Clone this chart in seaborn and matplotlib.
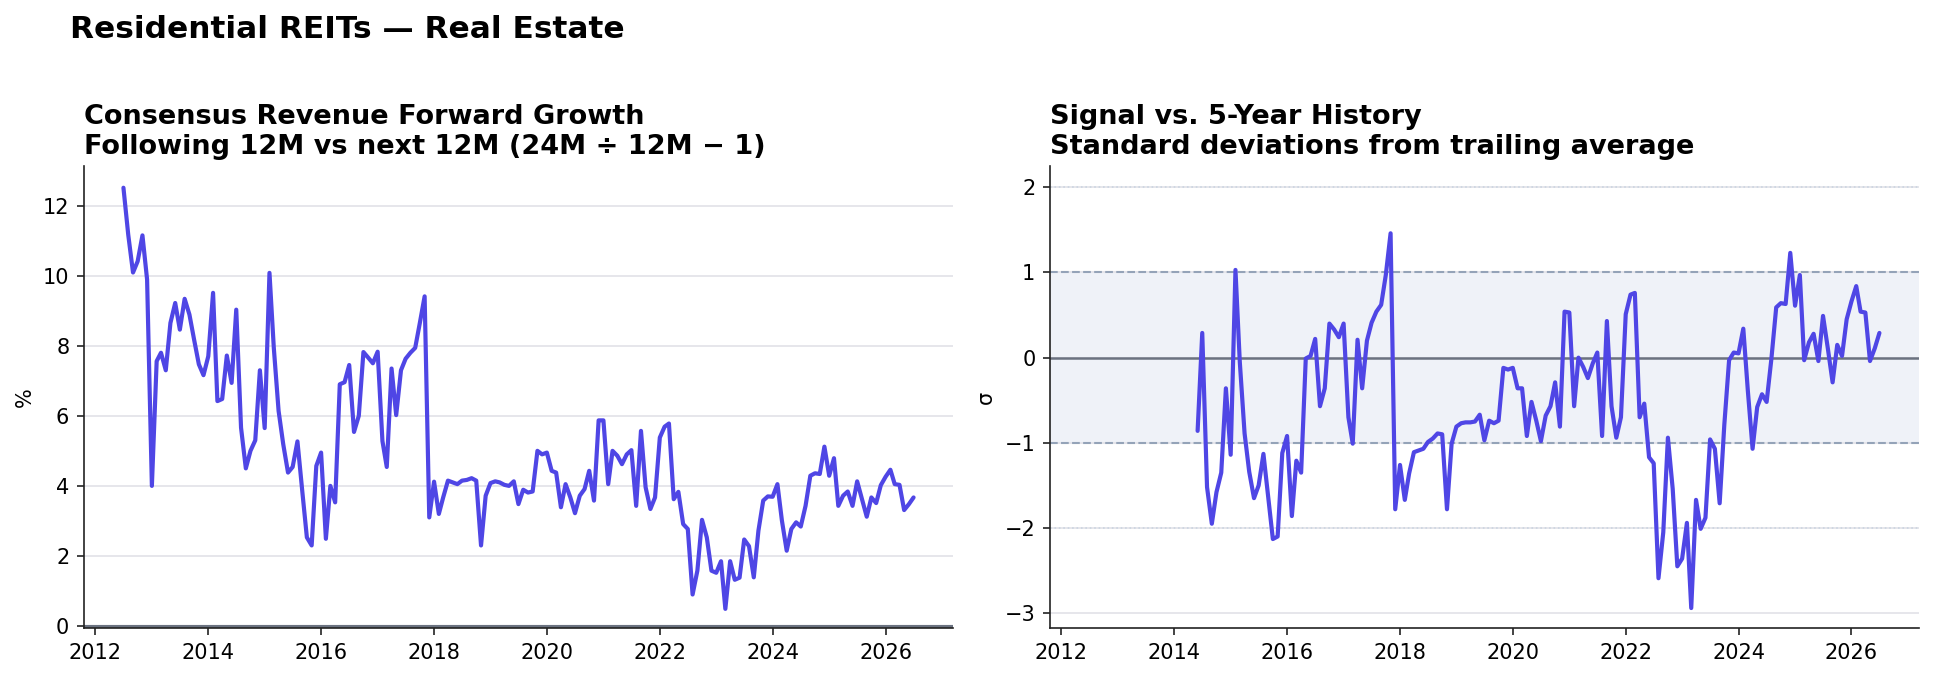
import matplotlib
matplotlib.use("Agg")
import matplotlib.pyplot as plt
import numpy as np
import pandas as pd
import seaborn as sns

# monthly consensus revenue forward growth (%), Jul 2012 - Jul 2026
growth = [12.51, 11.17, 10.09, 10.41, 11.15, 9.89, 4.0, 7.56, 7.8, 7.3,
          8.65, 9.22, 8.46, 9.34, 8.89, 8.18, 7.47, 7.16, 7.7, 9.51,
          6.42, 6.48, 7.72, 6.94, 9.03, 5.66, 4.5, 5.0, 5.3, 7.3,
          5.65, 10.08, 7.94, 6.14, 5.19, 4.38, 4.54, 5.27, 3.86, 2.53,
          2.3, 4.57, 4.95, 2.49, 4.0, 3.53, 6.9, 6.96, 7.45, 5.54,
          6.0, 7.82, 7.66, 7.5, 7.83, 5.28, 4.54, 7.35, 6.02, 7.3,
          7.63, 7.8, 7.94, 8.65, 9.41, 3.1, 4.12, 3.2, 3.67, 4.15,
          4.1, 4.05, 4.15, 4.17, 4.22, 4.15, 2.3, 3.72, 4.08, 4.13,
          4.1, 4.03, 4.0, 4.13, 3.48, 3.89, 3.81, 3.84, 5.0, 4.9,
          4.95, 4.43, 4.38, 3.39, 4.05, 3.67, 3.22, 3.72, 3.91, 4.43,
          3.58, 5.87, 5.87, 4.05, 5.0, 4.86, 4.62, 4.9, 5.02, 3.43,
          5.57, 3.96, 3.34, 3.67, 5.38, 5.69, 5.78, 3.62, 3.83, 2.91,
          2.77, 0.9, 1.58, 3.03, 2.53, 1.58, 1.52, 1.85, 0.49, 1.85,
          1.32, 1.38, 2.47, 2.28, 1.39, 2.72, 3.58, 3.7, 3.69, 4.05,
          3.01, 2.15, 2.77, 2.96, 2.84, 3.43, 4.29, 4.36, 4.34, 5.12,
          4.29, 4.79, 3.43, 3.72, 3.84, 3.43, 4.13, 3.62, 3.12, 3.67,
          3.51, 4.02, 4.26, 4.46, 4.05, 4.03, 3.31, 3.48, 3.67]

# z-score vs trailing history, Jun 2014 - Jul 2026
zscore = [-0.86, 0.29, -1.52, -1.95, -1.58, -1.35, -0.36, -1.14, 1.03, -0.05,
          -0.89, -1.34, -1.65, -1.5, -1.13, -1.64, -2.13, -2.1, -1.12, -0.92,
          -1.86, -1.21, -1.35, -0.01, 0.02, 0.22, -0.57, -0.36, 0.4, 0.33,
          0.24, 0.4, -0.7, -1.01, 0.21, -0.36, 0.2, 0.41, 0.54, 0.62,
          0.97, 1.46, -1.78, -1.26, -1.67, -1.36, -1.11, -1.09, -1.07, -0.99,
          -0.95, -0.89, -0.9, -1.78, -1.01, -0.81, -0.77, -0.76, -0.76, -0.75,
          -0.67, -0.97, -0.74, -0.77, -0.74, -0.12, -0.14, -0.12, -0.36, -0.36,
          -0.92, -0.52, -0.74, -0.98, -0.68, -0.57, -0.29, -0.81, 0.54, 0.53,
          -0.57, 0.0, -0.11, -0.24, -0.07, 0.06, -0.92, 0.43, -0.57, -0.94,
          -0.7, 0.51, 0.74, 0.76, -0.7, -0.54, -1.17, -1.24, -2.59, -2.05,
          -0.94, -1.54, -2.45, -2.36, -1.94, -2.94, -1.67, -2.01, -1.88, -0.96,
          -1.07, -1.71, -0.79, -0.03, 0.06, 0.05, 0.34, -0.38, -1.07, -0.58,
          -0.43, -0.52, -0.01, 0.59, 0.64, 0.63, 1.23, 0.61, 0.97, -0.03,
          0.18, 0.28, -0.04, 0.49, 0.11, -0.29, 0.15, 0.02, 0.45, 0.66,
          0.84, 0.54, 0.53, -0.04, 0.11, 0.29]

dates = pd.date_range("2012-07-01", periods=len(growth), freq="MS")
z_dates = pd.date_range("2014-06-01", periods=len(zscore), freq="MS")

df = pd.DataFrame({"date": dates, "growth": growth})
dz = pd.DataFrame({"date": z_dates, "z": zscore})

sns.set_style("ticks")
plt.rcParams["font.family"] = ["DejaVu Sans"]
plt.rcParams["text.color"] = "black"
plt.rcParams["axes.labelcolor"] = "black"
plt.rcParams["axes.edgecolor"] = "#222222"
plt.rcParams["xtick.color"] = "#222222"
plt.rcParams["ytick.color"] = "#222222"
plt.rcParams["xtick.labelcolor"] = "black"
plt.rcParams["ytick.labelcolor"] = "black"

LINE = "#4F46E5"
GRID = "#e2e2e8"

fig = plt.figure(figsize=(1934 / 150, 679 / 150), dpi=150)
ax1 = fig.add_axes([0.0434, 0.0744, 0.4494, 0.6811])
ax2 = fig.add_axes([0.5429, 0.0744, 0.4493, 0.6811])

# left: growth
ax1.grid(axis="y", color=GRID, lw=0.8)
ax1.set_axisbelow(True)
ax1.axhline(0, color="#6b7280", lw=1.5, zorder=1)
sns.lineplot(data=df, x="date", y="growth", ax=ax1, color=LINE, lw=2)
ax1.set_ylim(-0.07, 13.13)
ax1.set_xlabel("")
ax1.set_ylabel("%", fontsize=10)
ax1.set_title("Consensus Revenue Forward Growth\nFollowing 12M vs next 12M (24M ÷ 12M − 1)",
              loc="left", fontsize=13, fontweight="bold")

# right: z-score
ax2.grid(axis="y", color=GRID, lw=0.8)
ax2.set_axisbelow(True)
ax2.axhspan(-1, 1, color="#eff2f8", zorder=0)
ax2.axhline(1, color="#94a3b8", lw=1, ls="--")
ax2.axhline(-1, color="#94a3b8", lw=1, ls="--")
ax2.axhline(2, color="#cbd5e1", lw=0.8, ls=":")
ax2.axhline(-2, color="#cbd5e1", lw=0.8, ls=":")
ax2.axhline(0, color="#6b7280", lw=1.2)
sns.lineplot(data=dz, x="date", y="z", ax=ax2, color=LINE, lw=2)
ax2.set_xlim(ax1.get_xlim())
ax2.set_ylim(-3.18, 2.25)
ax2.set_yticks([-3, -2, -1, 0, 1, 2])
ax2.set_xlabel("")
ax2.set_ylabel("σ", fontsize=10)
ax2.set_title("Signal vs. 5-Year History\nStandard deviations from trailing average",
              loc="left", fontsize=13, fontweight="bold")

for ax in (ax1, ax2):
    sns.despine(ax=ax)
    ax.tick_params(labelsize=10)

fig.text(0.036, 0.978, "Residential REITs — Real Estate", fontsize=15,
         fontweight="bold", ha="left", va="top")

fig.savefig("out.png", dpi=150)
